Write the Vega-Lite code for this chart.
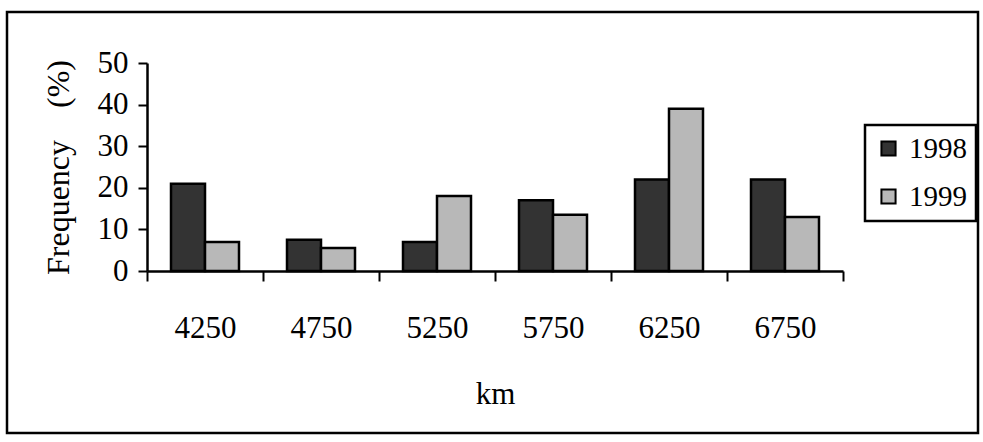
{
  "$schema": "https://vega.github.io/schema/vega-lite/v6.json",
  "autosize": "none",
  "width": 696,
  "height": 208,
  "padding": {"left": 147, "top": 63, "right": 140, "bottom": 171},
  "background": "white",
  "config": {
    "font": "Liberation Serif",
    "view": {"stroke": null},
    "legend": {"strokeWidth": 2.5, "strokeColor": "black"},
    "axis": {
      "domainColor": "black",
      "tickColor": "black",
      "labelColor": "black",
      "titleColor": "black",
      "labelFont": "Liberation Serif",
      "titleFont": "Liberation Serif",
      "labelFontWeight": "normal",
      "titleFontWeight": "normal",
      "grid": false
    }
  },
  "layer": [
    {
      "data": {"values": [{"frame": 1}]},
      "mark": {"type": "rect", "fill": null, "fillOpacity": 0, "stroke": "black", "strokeWidth": 2.5, "clip": false},
      "encoding": {
        "x": {"value": -140},
        "x2": {"value": 831},
        "y": {"value": -51},
        "y2": {"value": 370}
      }
    },
    {
      "data": {
        "values": [
          {"km": "4250", "year": "1998", "freq": 21},
          {"km": "4250", "year": "1999", "freq": 7},
          {"km": "4750", "year": "1998", "freq": 7.5},
          {"km": "4750", "year": "1999", "freq": 5.5},
          {"km": "5250", "year": "1998", "freq": 7},
          {"km": "5250", "year": "1999", "freq": 18},
          {"km": "5750", "year": "1998", "freq": 17},
          {"km": "5750", "year": "1999", "freq": 13.5},
          {"km": "6250", "year": "1998", "freq": 22},
          {"km": "6250", "year": "1999", "freq": 39},
          {"km": "6750", "year": "1998", "freq": 22},
          {"km": "6750", "year": "1999", "freq": 13}
        ]
      },
      "mark": {"type": "bar", "stroke": "black", "strokeWidth": 2.5},
      "encoding": {
        "x": {
          "field": "km",
          "type": "nominal",
          "sort": null,
          "scale": {"paddingInner": 0, "paddingOuter": 0},
          "axis": {
            "title": "km",
            "labelAngle": 0,
            "labelFontSize": 31,
            "titleFontSize": 31,
            "domainWidth": 2.5,
            "tickWidth": 2,
            "tickSize": 10,
            "tickBand": "extent",
            "labelPadding": 32,
            "titlePadding": 36
          }
        },
        "xOffset": {
          "field": "year",
          "type": "nominal",
          "scale": {"paddingInner": 0, "paddingOuter": 0.706}
        },
        "y": {
          "field": "freq",
          "type": "quantitative",
          "scale": {"domain": [0, 50], "nice": false},
          "axis": {
            "title": "Frequency\u00a0\u00a0\u00a0\u00a0(%)",
            "values": [0, 10, 20, 30, 40, 50],
            "labelFontSize": 31,
            "titleFontSize": 32,
            "domainWidth": 2.5,
            "tickWidth": 2,
            "tickSize": 9,
            "labelPadding": 10,
            "titlePadding": 22
          }
        },
        "color": {
          "field": "year",
          "type": "nominal",
          "scale": {"domain": ["1998", "1999"], "range": ["#333333", "#b8b8b8"]},
          "legend": {
            "title": null,
            "orient": "none",
            "legendX": 718,
            "legendY": 62,
            "symbolType": "square",
            "symbolSize": 200,
            "symbolStrokeColor": "black",
            "symbolStrokeWidth": 2,
            "symbolOpacity": 1,
            "labelFontSize": 29,
            "labelFont": "Liberation Serif",
            "labelColor": "black",
            "padding": 9,
            "rowPadding": 18,
            "labelOffset": 6
          }
        }
      }
    }
  ]
}
